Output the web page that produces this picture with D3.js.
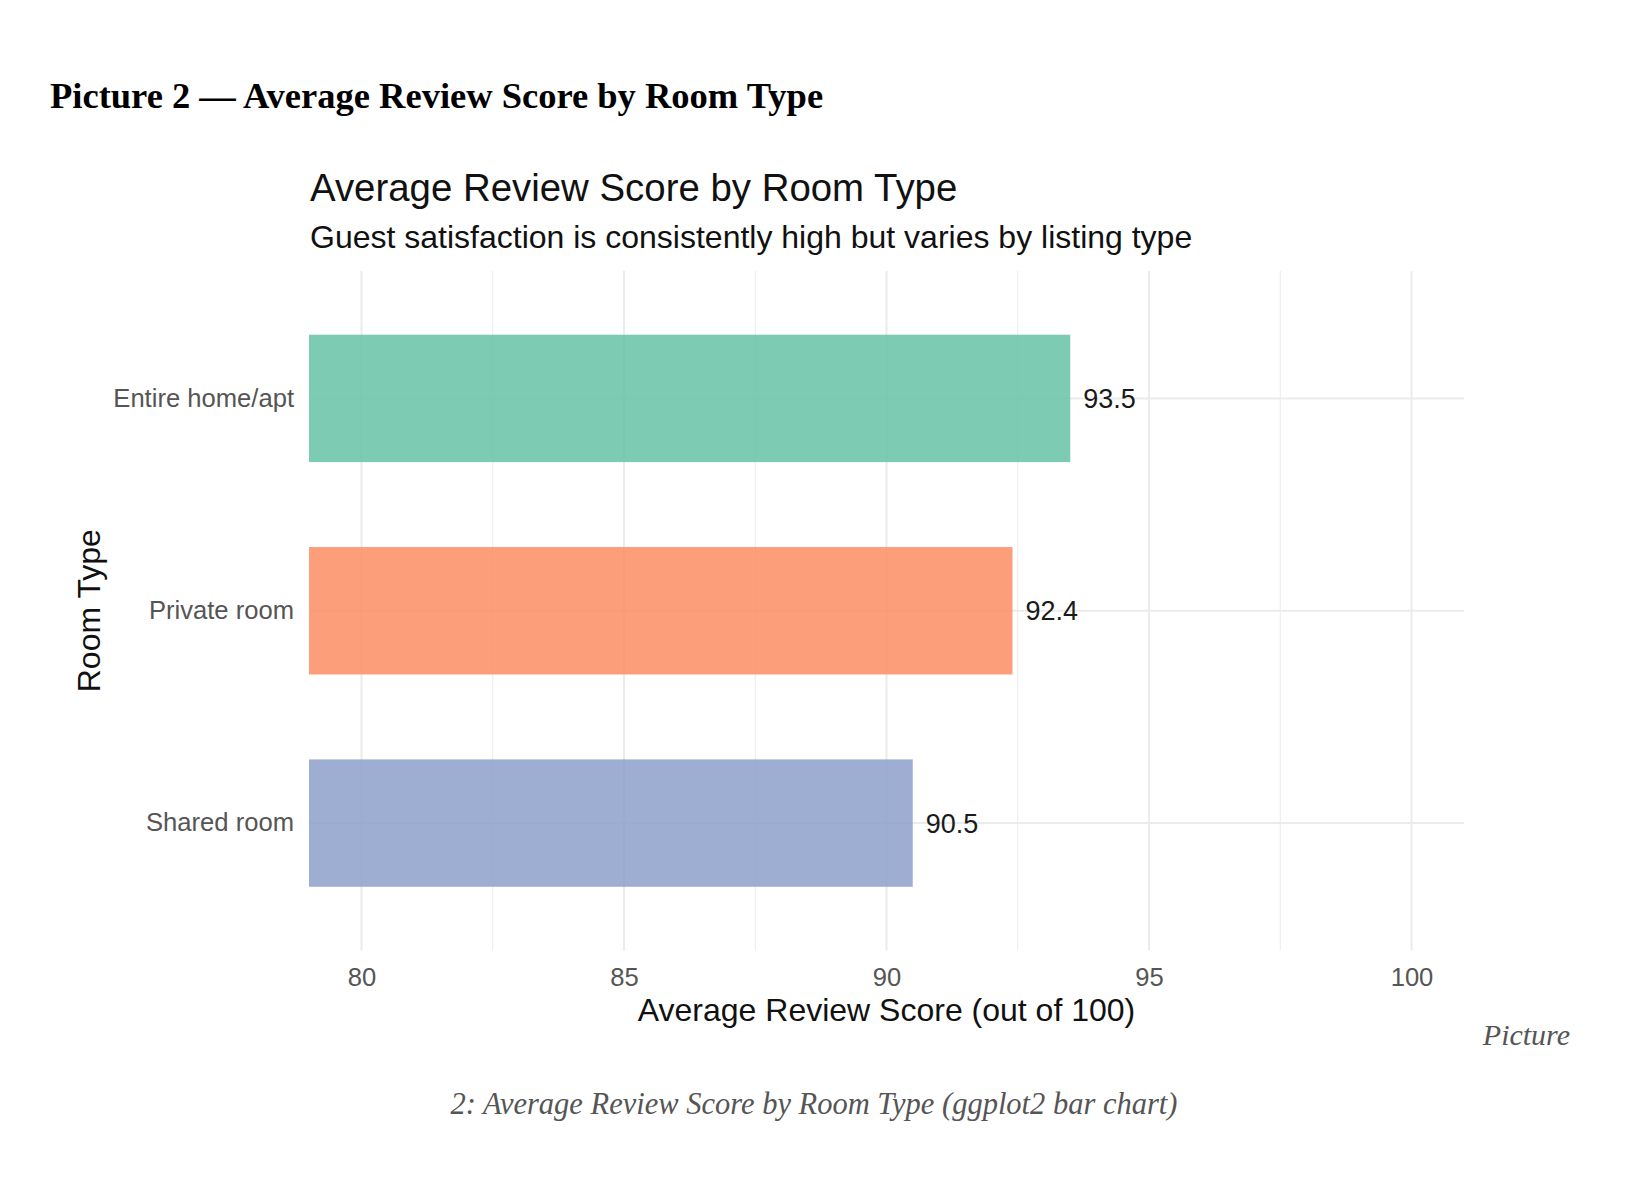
<!DOCTYPE html>
<html>
<head>
<meta charset="UTF-8" />
<title>Average Review Score by Room Type</title>
<script src="https://d3js.org/d3.v7.min.js"></script>
<style>
  body {
    margin: 0;
    background: #ffffff;
  }
  svg {
    display: block;
  }
  .sans {
    font-family: "Liberation Sans", Arial, Helvetica, sans-serif;
  }
  .serif {
    font-family: "Liberation Serif", "Times New Roman", Times, serif;
  }
</style>
</head>
<body>
<svg id="chart"></svg>
<script>
  // data
  const roomTypes = ["Entire home/apt", "Private room", "Shared room"];
  const avgScores = [93.5, 92.4, 90.5];
  const barColors = ["#66C2A5", "#FC8D62", "#8DA0CB"];
  const xTicks = [80, 85, 90, 95, 100];
  const xMinorTicks = [82.5, 87.5, 92.5, 97.5];

  const width = 1652, height = 1180;
  const panel = { left: 309, right: 1464, top: 271, bottom: 950.5 };

  const svg = d3.select("#chart")
    .attr("width", width)
    .attr("height", height);

  const rows = roomTypes.map((t, i) => ({ type: t, score: avgScores[i], color: barColors[i] }));

  const x = d3.scaleLinear()
    .domain([79, 101])
    .range([panel.left, panel.right]);

  const y = d3.scaleBand()
    .domain(roomTypes)
    .range([panel.top, panel.bottom])
    .paddingInner(0.4)
    .paddingOuter(0.3);

  // page heading
  svg.append("text")
    .attr("class", "serif")
    .attr("x", 50)
    .attr("y", 108)
    .attr("font-size", 36.5)
    .attr("font-weight", "bold")
    .attr("fill", "#000")
    .text("Picture 2 — Average Review Score by Room Type");

  // plot title + subtitle
  svg.append("text")
    .attr("class", "sans")
    .attr("x", 310)
    .attr("y", 201)
    .attr("font-size", 38.4)
    .attr("fill", "#111")
    .text("Average Review Score by Room Type");

  svg.append("text")
    .attr("class", "sans")
    .attr("x", 310)
    .attr("y", 248)
    .attr("font-size", 32)
    .attr("fill", "#111")
    .text("Guest satisfaction is consistently high but varies by listing type");

  // grid
  const grid = svg.append("g");

  grid.selectAll("line.minor")
    .data(xMinorTicks)
    .enter().append("line")
    .attr("class", "minor")
    .attr("x1", d => x(d)).attr("x2", d => x(d))
    .attr("y1", panel.top).attr("y2", panel.bottom)
    .attr("stroke", "#ebebeb")
    .attr("stroke-width", 1);

  grid.selectAll("line.major")
    .data(xTicks)
    .enter().append("line")
    .attr("class", "major")
    .attr("x1", d => x(d)).attr("x2", d => x(d))
    .attr("y1", panel.top).attr("y2", panel.bottom)
    .attr("stroke", "#ebebeb")
    .attr("stroke-width", 2);

  grid.selectAll("line.hmajor")
    .data(roomTypes)
    .enter().append("line")
    .attr("class", "hmajor")
    .attr("x1", panel.left).attr("x2", panel.right)
    .attr("y1", d => y(d) + y.bandwidth() / 2)
    .attr("y2", d => y(d) + y.bandwidth() / 2)
    .attr("stroke", "#ebebeb")
    .attr("stroke-width", 2);

  // bars
  svg.selectAll("rect.bar")
    .data(rows)
    .enter().append("rect")
    .attr("class", "bar")
    .attr("x", x(79))
    .attr("y", d => y(d.type))
    .attr("width", d => x(d.score) - x(79))
    .attr("height", y.bandwidth())
    .attr("fill", d => d.color)
    .attr("fill-opacity", 0.85);

  // value labels
  svg.selectAll("text.value")
    .data(rows)
    .enter().append("text")
    .attr("class", "value sans")
    .attr("x", d => x(d.score) + 13)
    .attr("y", d => y(d.type) + y.bandwidth() / 2)
    .attr("dy", "0.36em")
    .attr("font-size", 27)
    .attr("fill", "#1a1a1a")
    .text(d => d.score.toFixed(1));

  // axes
  const xAxis = svg.append("g")
    .attr("transform", `translate(0,${panel.bottom})`)
    .call(d3.axisBottom(x).tickValues(xTicks).tickSize(0).tickPadding(17));

  const yAxis = svg.append("g")
    .attr("transform", `translate(${panel.left},0)`)
    .call(d3.axisLeft(y).tickSize(0).tickPadding(15));

  [xAxis, yAxis].forEach(ax => {
    ax.select(".domain").remove();
    ax.selectAll("text")
      .attr("class", "sans")
      .attr("font-size", 25.6)
      .attr("fill", "#555");
  });

  svg.append("text")
    .attr("class", "sans")
    .attr("x", (panel.left + panel.right) / 2)
    .attr("y", 1021)
    .attr("text-anchor", "middle")
    .attr("font-size", 32)
    .attr("fill", "#111")
    .text("Average Review Score (out of 100)");

  svg.append("text")
    .attr("class", "sans")
    .attr("transform", `translate(100,${(panel.top + panel.bottom) / 2}) rotate(-90)`)
    .attr("text-anchor", "middle")
    .attr("font-size", 32)
    .attr("fill", "#111")
    .text("Room Type");

  // figure caption
  svg.append("text")
    .attr("class", "serif")
    .attr("x", 1570)
    .attr("y", 1045)
    .attr("text-anchor", "end")
    .attr("font-size", 30)
    .attr("font-style", "italic")
    .attr("fill", "#555")
    .text("Picture");

  svg.append("text")
    .attr("class", "serif")
    .attr("x", 814)
    .attr("y", 1114)
    .attr("text-anchor", "middle")
    .attr("font-size", 30.5)
    .attr("font-style", "italic")
    .attr("fill", "#555")
    .text("2: Average Review Score by Room Type (ggplot2 bar chart)");
</script>
</body>
</html>
